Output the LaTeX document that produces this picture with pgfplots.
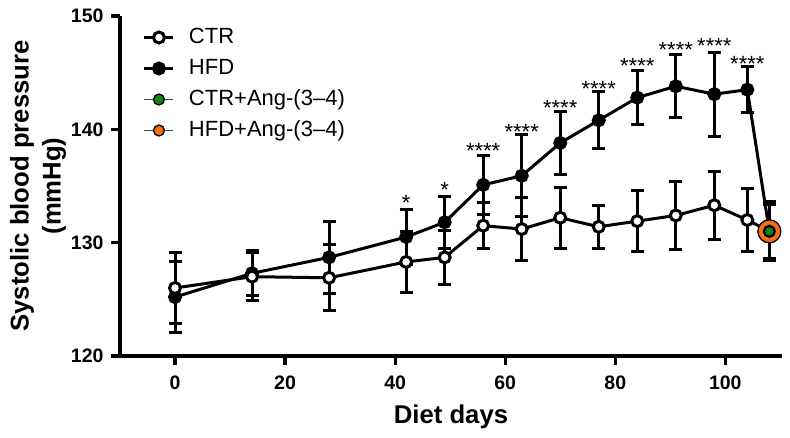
\documentclass[border=0pt]{standalone}
\usepackage{pgfplots}
\pgfplotsset{compat=1.18}
\usepackage{fontspec}
\setmainfont{Liberation Sans}
\definecolor{ctrang}{RGB}{20,130,20}
\definecolor{hfdang}{RGB}{245,110,20}

\pgfplotsset{sembars/.style={
  error bars/y dir=both, error bars/y explicit,
  error bars/error bar style={line width=3pt, black},
  error bars/error mark options={rotate=90, line width=3pt, mark size=6.5pt, black}}}

% day, mean, sem
\pgfplotstableread{
x y e
0 126.0 3.1
14 127.0 2.1
28 126.9 2.9
42 128.3 2.7
49 128.7 2.4
56 131.5 2.0
63 131.2 2.8
70 132.2 2.7
77 131.4 1.9
84 131.9 2.7
91 132.4 3.0
98 133.3 3.0
104 132.0 2.8
108 131.0 0
}\ctr
\pgfplotstableread{
x y e
0 125.2 3.1
14 127.3 2.0
28 128.7 3.2
42 130.5 2.4
49 131.8 2.3
56 135.1 2.6
63 135.9 3.6
70 138.8 2.8
77 140.8 2.5
84 142.8 2.4
91 143.8 2.8
98 143.1 3.7
104 143.5 2.0
108 131.0 0
}\hfd

\begin{document}
\begin{tikzpicture}
\begin{axis}[
  scale only axis, width=662pt, height=340pt,
  xmin=-10, xmax=110.3, ymin=120, ymax=150,
  axis lines=left, axis line style={-, line width=3.2pt},
  xtick={0,20,40,60,80,100}, ytick={120,130,140,150},
  tick align=outside, major tick length=9pt,
  tick style={line width=3.2pt, black},
  /pgf/number format/assume math mode=true,
  ticklabel style={font=\fontsize{19.5}{19.5}\selectfont\bfseries},
  xticklabel style={yshift=-7pt},
  yticklabel style={xshift=-4pt},
  xlabel={Diet days},
  xlabel style={at={(axis description cs:0.5,-0.2)}, anchor=base, inner sep=0pt,
    font=\fontsize{25.7}{30}\selectfont\bfseries},
  ylabel={Systolic blood pressure\\(mmHg)},
  ylabel style={at={(axis description cs:-0.0813,0.5)}, anchor=south, inner sep=0pt,
    align=center, font=\fontsize{25.7}{32}\selectfont\bfseries},
  clip=false,
  legend image code/.code={\draw[mark repeat=2,mark phase=2,#1] plot coordinates {(0pt,0pt)(14.5pt,0pt)(29pt,0pt)};},
  legend style={draw=none, fill=none, at={(axis description cs:0.0347,0.9676)},
    anchor=north west, inner sep=0pt, outer sep=0pt, row sep=10pt,
    font=\fontsize{22}{22}\selectfont,
    nodes={inner sep=0pt, text height=16pt, text depth=5pt},
    /tikz/every odd column/.append style={column sep=14pt}},
  legend cell align=left,
]
\addlegendimage{black, line width=3pt, mark=*, mark size=5.5pt, mark options={fill=white}}
\addlegendentry{CTR}
\addlegendimage{black, line width=3pt, mark=*, mark size=5.5pt, mark options={fill=black}}
\addlegendentry{HFD}
\addlegendimage{black!70, line width=1.3pt, mark=*, mark size=5.5pt, mark options={draw=black, fill=ctrang}}
\addlegendentry{CTR+Ang-(3--4)}
\addlegendimage{black!70, line width=1.3pt, mark=*, mark size=5.5pt, mark options={draw=black, fill=hfdang}}
\addlegendentry{HFD+Ang-(3--4)}

\addplot[forget plot, sembars, black, line width=3pt, mark=*, mark size=5.5pt, mark options={fill=black}]
  table[x=x, y=y, y error=e] {\hfd};
\addplot[forget plot, sembars, black, line width=3pt, mark=*, mark size=5.5pt, mark options={fill=white}]
  table[x=x, y=y, y error=e] {\ctr};
\addplot[forget plot, sembars, only marks, mark=*, mark size=11.5pt, mark options={draw=black, fill=hfdang, line width=1.3pt}]
  coordinates {(108,131.0) +- (0,2.6)};
\addplot[forget plot, sembars, only marks, mark=*, mark size=5.5pt, mark options={draw=black, fill=ctrang, line width=2.2pt}]
  coordinates {(108,131.0) +- (0,2.4)};

\addplot[forget plot, draw=none, mark=none, nodes near coords, point meta=explicit symbolic,
  every node near coord/.style={anchor=base, inner sep=0pt, font=\fontsize{22}{22}\selectfont}]
  coordinates {(42,132.8) [*] (49,134.0) [*] (56,137.4) [****] (63,139.1) [****]
    (70,141.2) [****] (77,142.9) [****] (84,144.9) [****] (91,146.3) [****]
    (98,146.7) [****] (104,145.1) [****]};
\end{axis}
\pgfresetboundingbox
\path (current axis.south west) ++(-120pt,-82pt) rectangle ++(790pt,438pt);
\end{tikzpicture}
\end{document}
